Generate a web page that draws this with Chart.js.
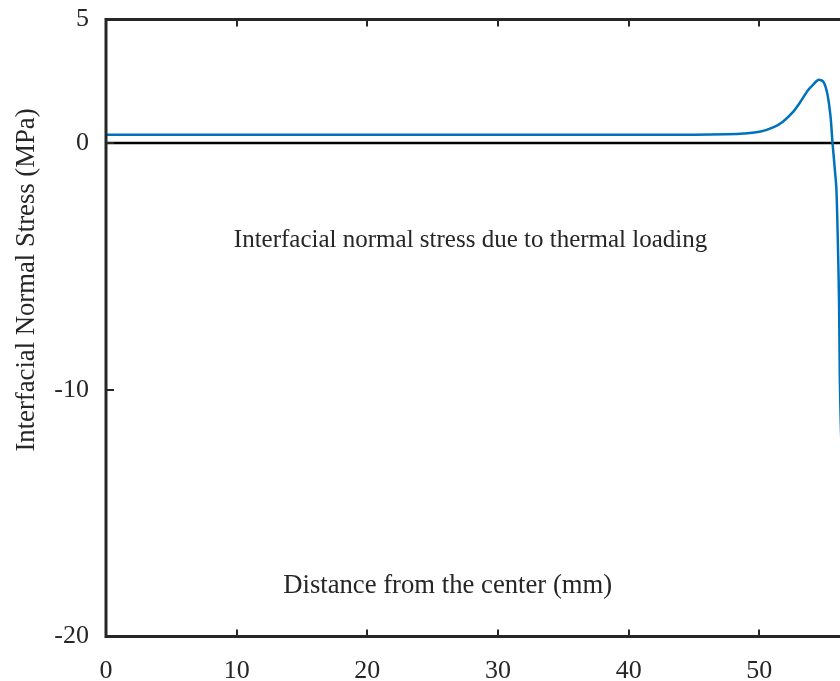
<!DOCTYPE html>
<html>
<head>
<meta charset="utf-8">
<script src="https://cdn.jsdelivr.net/npm/chart.js@4.4.0/dist/chart.umd.min.js"></script>
<style>
  html, body { margin: 0; padding: 0; background: #fff; overflow: hidden; }
  #wrap { width: 840px; height: 681px; overflow: hidden; position: relative; }
  #wrap canvas { position: absolute; left: 0; top: 0; }
</style>
</head>
<body>
<div id="wrap"><canvas id="chart" width="920" height="681"></canvas></div>
<script>
// Distance from the center (mm) and interfacial normal stress (MPa)
const distance = [0, 10, 20, 30, 40, 45, 47.5, 48.8, 50.1, 51.1, 51.8, 52.6, 53.1, 53.75, 54.1, 54.5, 54.9, 55.2, 55.45, 55.6, 55.8, 55.9, 56.0, 56.1, 56.16, 56.24, 56.4];
const stress   = [0.33, 0.33, 0.33, 0.33, 0.33, 0.33, 0.35, 0.38, 0.46, 0.64, 0.86, 1.27, 1.63, 2.15, 2.35, 2.55, 2.48, 2.0, 1.06, 0.0, -1.2, -1.9, -3.8, -6.4, -9.5, -11.5, -14];
const zeroLineX = [0, 60];
const zeroLineY = [0, 0];
const xTicks = [0, 10, 20, 30, 40, 50, 60];
const yTicks = [-20, -10, 0, 5];

const serif = "'Liberation Serif', 'Times New Roman', serif";
const textColor = '#262626';

// Box frame, inward ticks and in-plot labels
const framePlugin = {
    id: 'frame',
    afterDraw(chart) {
        const { ctx, chartArea: a, scales: { x, y } } = chart;
        ctx.save();
        ctx.strokeStyle = '#262626';
        ctx.lineWidth = 3;
        ctx.strokeRect(a.left, a.top, a.right - a.left, a.bottom - a.top);
        ctx.lineWidth = 2;
        ctx.beginPath();
        xTicks.forEach(v => {
            const px = Math.round(x.getPixelForValue(v));
            ctx.moveTo(px, a.bottom); ctx.lineTo(px, a.bottom - 7);
            ctx.moveTo(px, a.top); ctx.lineTo(px, a.top + 7);
        });
        yTicks.forEach(v => {
            const py = Math.round(y.getPixelForValue(v));
            ctx.moveTo(a.left, py); ctx.lineTo(a.left + 8, py);
        });
        ctx.stroke();

        ctx.fillStyle = textColor;
        ctx.textAlign = 'center';
        ctx.textBaseline = 'middle';
        ctx.font = '25px ' + serif;
        ctx.fillText('Interfacial normal stress due to thermal loading', x.getPixelForValue(27.9), y.getPixelForValue(-3.95));
        ctx.font = '26.7px ' + serif;
        ctx.fillText('Distance from the center (mm)', x.getPixelForValue(26.15), y.getPixelForValue(-17.95));

        ctx.translate(27, 280);
        ctx.rotate(-Math.PI / 2);
        ctx.fillText('Interfacial Normal Stress (MPa)', 0, 0);
        ctx.restore();
    }
};

new Chart(document.getElementById('chart'), {
    type: 'scatter',
    data: {
        datasets: [{
            data: distance.map((d, i) => ({ x: d, y: stress[i] })),
            showLine: true,
            borderColor: '#0072BD',
            borderWidth: 2.5,
            pointRadius: 0,
            tension: 0.3,
            order: 1
        }, {
            data: zeroLineX.map((d, i) => ({ x: d, y: zeroLineY[i] })),
            showLine: true,
            borderColor: '#000000',
            borderWidth: 2.5,
            pointRadius: 0,
            order: 2
        }]
    },
    options: {
        responsive: false,
        animation: false,
        layout: { padding: { left: 0, top: 19.5, right: 30, bottom: 0 } },
        plugins: {
            legend: { display: false },
            tooltip: { enabled: false }
        },
        scales: {
            x: {
                type: 'linear',
                min: 0,
                max: 60,
                afterBuildTicks: s => { s.ticks = xTicks.map(v => ({ value: v })); },
                afterFit: s => { s.height = 44.5; s.paddingLeft = 0; s.paddingRight = 0; },
                grid: { display: false, drawTicks: false },
                border: { display: false },
                ticks: { color: textColor, font: { family: serif, size: 26 }, padding: 19, maxRotation: 0 }
            },
            y: {
                type: 'linear',
                min: -20,
                max: 5,
                afterBuildTicks: s => { s.ticks = yTicks.map(v => ({ value: v })); },
                afterFit: s => { s.width = 106; s.paddingTop = 0; s.paddingBottom = 0; },
                grid: { display: false, drawTicks: false },
                border: { display: false },
                ticks: { color: textColor, font: { family: serif, size: 26 }, padding: 17 }
            }
        }
    },
    plugins: [framePlugin]
});
</script>
</body>
</html>
